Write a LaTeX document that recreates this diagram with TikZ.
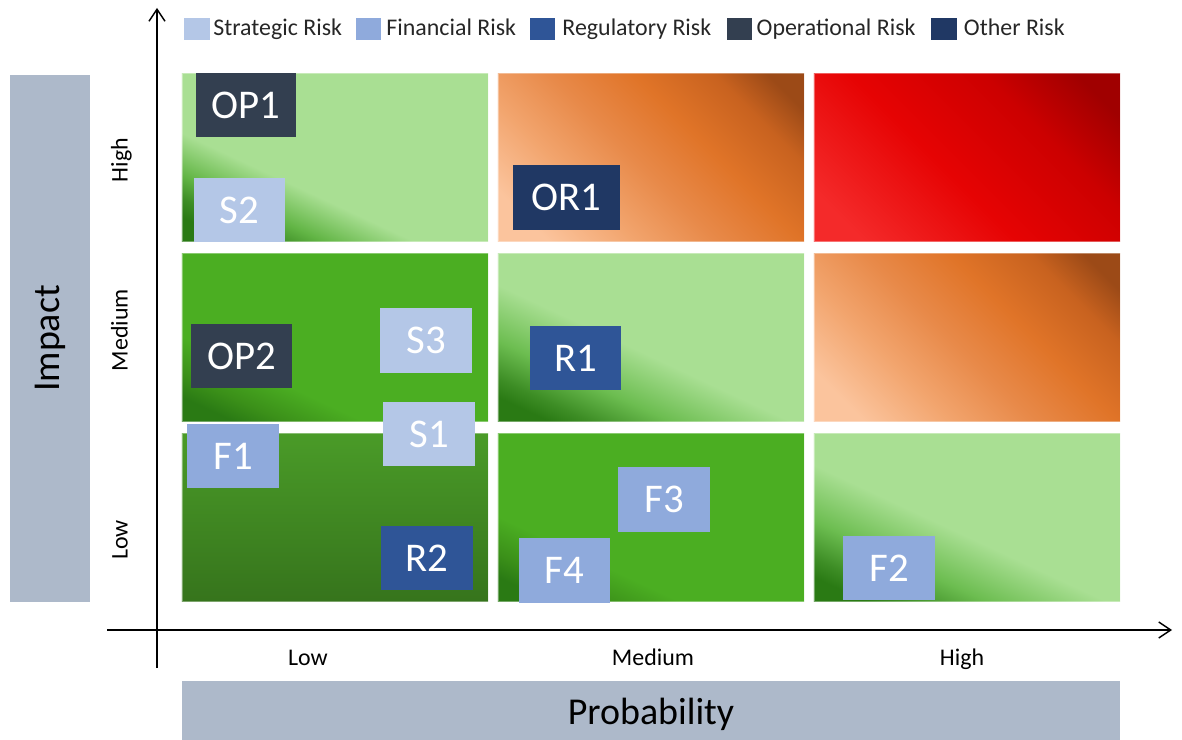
\documentclass[tikz,border=0pt]{standalone}
\usepackage{fontspec}
\setmainfont{Carlito}
\usepackage{xcolor}
\usepackage{tikz}
\usetikzlibrary{positioning, arrows.meta}

\definecolor{stratBlue}{HTML}{B4C7E7}
\definecolor{finBlue}{HTML}{8FAADC}
\definecolor{regBlue}{HTML}{2F5597}
\definecolor{opSlate}{HTML}{333F50}
\definecolor{otherNavy}{HTML}{203864}
\definecolor{barGray}{HTML}{ADB9CA}
\definecolor{lightGreen}{HTML}{A9DF93}
\definecolor{cornerGreen}{HTML}{2A7A14}
\definecolor{edgeGreen}{HTML}{3D8D25}
\definecolor{halfGreen}{HTML}{62B545}
\definecolor{softGreen}{HTML}{6CBD50}
\definecolor{bandGreen}{HTML}{3B9019}
\definecolor{midGreen}{HTML}{4BAE22}
\definecolor{deepTop}{HTML}{4A9B28}
\definecolor{deepBottom}{HTML}{36741C}
\definecolor{peach}{HTML}{FBC49D}
\definecolor{softOrange}{HTML}{F2A56E}
\definecolor{warmOrange}{HTML}{E88A4A}
\definecolor{orange}{HTML}{E07428}
\definecolor{burnt}{HTML}{C8621F}
\definecolor{brown}{HTML}{9C4A17}
\definecolor{redLight}{HTML}{F42A2A}
\definecolor{redMid}{HTML}{E60303}
\definecolor{redDeep}{HTML}{CC0000}
\definecolor{redDark}{HTML}{A00000}

% diagonal fills for the grid cells (the cell spans about 21bp to 79bp)
\pgfdeclarehorizontalshading{lightCorner}{100bp}{color(0bp)=(cornerGreen); color(22bp)=(cornerGreen); color(26bp)=(edgeGreen); color(31bp)=(halfGreen); color(40bp)=(lightGreen); color(100bp)=(lightGreen)}
\pgfdeclarehorizontalshading{lightCornerWide}{100bp}{color(0bp)=(cornerGreen); color(22bp)=(cornerGreen); color(26bp)=(edgeGreen); color(34bp)=(softGreen); color(46bp)=(lightGreen); color(100bp)=(lightGreen)}
\pgfdeclarehorizontalshading{midCorner}{100bp}{color(0bp)=(cornerGreen); color(22bp)=(cornerGreen); color(27bp)=(bandGreen); color(35bp)=(midGreen); color(100bp)=(midGreen)}
\pgfdeclarehorizontalshading{orangeFade}{100bp}{color(0bp)=(peach); color(22bp)=(peach); color(35bp)=(softOrange); color(47bp)=(warmOrange); color(60bp)=(orange); color(72bp)=(burnt); color(80bp)=(brown); color(100bp)=(brown)}
\pgfdeclarehorizontalshading{redFade}{100bp}{color(0bp)=(redLight); color(22bp)=(redLight); color(45bp)=(redMid); color(65bp)=(redDeep); color(79bp)=(redDark); color(100bp)=(redDark)}

\tikzset{
    cell/.style={rectangle, shade, shading angle=45, minimum width=7.65cm, minimum height=4.2cm, inner sep=0pt, draw=white, draw opacity=0.35, line width=0.6pt},
    greenCell/.style={cell, shading angle=65},
    riskBox/.style={rectangle, minimum width=2.28cm, minimum height=1.62cm, inner sep=0pt, text=white, font=\fontsize{29}{30}\selectfont},
    strat/.style={riskBox, fill=stratBlue},
    fin/.style={riskBox, fill=finBlue},
    reg/.style={riskBox, fill=regBlue},
    oper/.style={riskBox, fill=opSlate},
    other/.style={riskBox, fill=otherNavy},
    legendKey/.style={rectangle, minimum width=0.63cm, minimum height=0.55cm, inner sep=0pt},
    legendText/.style={inner sep=0pt, anchor=west, text=black!85, text height=0.72em, text depth=0.22em, font=\fontsize{17}{19}\selectfont},
    tickLabel/.style={inner sep=0pt, text height=0.72em, text depth=0.22em, font=\fontsize{17}{19}\selectfont},
    axisBar/.style={rectangle, fill=barGray, inner sep=0pt, font=\fontsize{27}{30}\selectfont},
    arrow/.style={-{Straight Barb[length=3mm, width=4mm]}, line width=1pt}
}

\begin{document}
\begin{tikzpicture}[x={(0.025cm,0)}, y={(0,-0.025cm)}]
        \useasboundingbox (0,0) rectangle (1182,740);

        % Grid cells (rows: high, medium, low impact)
        \node[greenCell, shading=lightCorner] (cLowHigh) at (335,157.5) {};
        \node[cell, shading=orangeFade] (cMedHigh) at (651,157.5) {};
        \node[cell, shading=redFade] (cHighHigh) at (967,157.5) {};
        \node[greenCell, shading=midCorner] (cLowMed) at (335,337.5) {};
        \node[greenCell, shading=lightCornerWide] (cMedMed) at (651,337.5) {};
        \node[cell, shading=orangeFade] (cHighMed) at (967,337.5) {};
        \node[cell, top color=deepTop, bottom color=deepBottom] (cLowLow) at (335,517.5) {};
        \node[greenCell, shading=midCorner] (cMedLow) at (651,517.5) {};
        \node[greenCell, shading=lightCornerWide] (cHighLow) at (967,517.5) {};

        % Risks
        \node[oper, minimum width=2.5cm] (OP1) at (246,105) {OP1};
        \node[strat] (S2) at (239.5,210) {S2};
        \node[other, minimum width=2.68cm] (OR1) at (566.5,197.5) {OR1};
        \node[oper, minimum width=2.52cm] (OP2) at (241.5,356) {OP2};
        \node[strat] (S3) at (426,340.5) {S3};
        \node[strat] (S1) at (429,434) {S1};
        \node[fin] (F1) at (233,456) {F1};
        \node[reg] (R2) at (427,558) {R2};
        \node[reg] (R1) at (575.5,358) {R1};
        \node[fin] (F3) at (664,499.5) {F3};
        \node[fin] (F4) at (564.5,570.5) {F4};
        \node[fin] (F2) at (889,568) {F2};

        % Legend
        \node[legendKey, fill=stratBlue] (kStrat) at (197,29) {};
        \node[legendText, right=0.08cm of kStrat, yshift=-0.08cm] (tStrat) {Strategic Risk};
        \node[legendKey, fill=finBlue] (kFin) at (368.5,29) {};
        \node[legendText, right=0.12cm of kFin, yshift=-0.08cm] (tFin) {Financial Risk};
        \node[legendKey, fill=regBlue] (kReg) at (542.5,29) {};
        \node[legendText, right=0.17cm of kReg, yshift=-0.08cm] (tReg) {Regulatory Risk};
        \node[legendKey, fill=opSlate] (kOper) at (739.5,29) {};
        \node[legendText, right=0.1cm of kOper, yshift=-0.08cm] (tOper) {Operational Risk};
        \node[legendKey, fill=otherNavy] (kOther) at (944,29) {};
        \node[legendText, right=0.17cm of kOther, yshift=-0.08cm] (tOther) {Other Risk};

        % Axes
        \coordinate (yBot) at (157,668);
        \coordinate (yTop) at (157,8);
        \coordinate (xLeft) at (107,630);
        \coordinate (xRight) at (1172,630);
        \draw[arrow] (yBot) -- (yTop);
        \draw[arrow] (xLeft) -- (xRight);

        % Tick labels
        \node[tickLabel, rotate=90] (iHigh) at (124,160) {High};
        \node[tickLabel, rotate=90] (iMed) at (124,330) {Medium};
        \node[tickLabel, rotate=90] (iLow) at (124,540) {Low};
        \node[tickLabel] (pLow) at (308,662) {Low};
        \node[tickLabel] (pMed) at (653,662) {Medium};
        \node[tickLabel] (pHigh) at (962,662) {High};

        % Axis titles (the lower bar runs past the page edge)
        \node[axisBar, rotate=90, minimum width=13.175cm, minimum height=2cm] (impact) at (50,338.5) {Impact};
        \node[axisBar, minimum width=23.45cm, minimum height=1.65cm] (probability) at (651,714) {Probability};

    \end{tikzpicture}
\end{document}
